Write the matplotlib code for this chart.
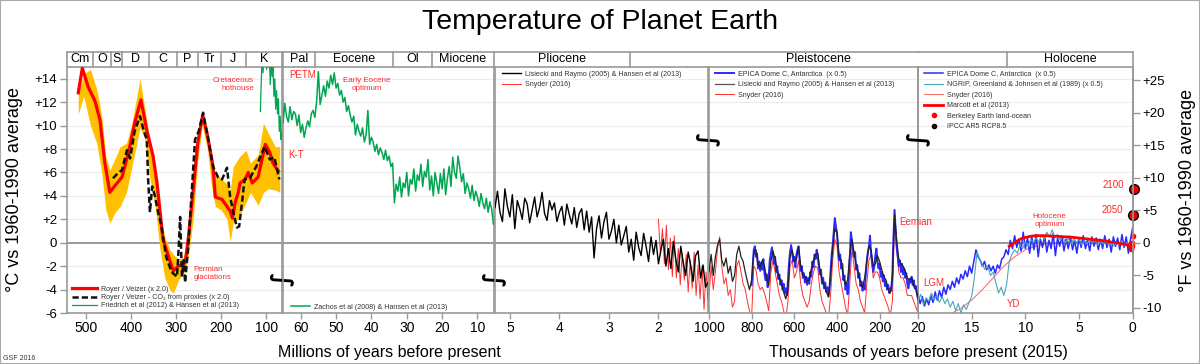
# Temperature of Planet Earth - five panels, each with its own time scale
import numpy as np
import matplotlib
matplotlib.use("Agg")
import matplotlib.pyplot as plt
from matplotlib.lines import Line2D
from matplotlib.patches import Rectangle
from matplotlib.transforms import blended_transform_factory as blend

plt.rcParams['font.family'] = ['Liberation Sans', 'DejaVu Sans']

# ---------------- data ----------------
# panel 1 : Phanerozoic, Ma, deg C vs 1960-1990
royer_ma = [517, 508, 495, 480, 469, 458, 447, 435, 420, 405, 392, 378, 365, 351,
            342, 329, 315, 306, 295, 280, 273, 262, 252, 241, 230, 218, 213, 198,
            180, 175, 169, 162, 158, 147, 140, 131, 118, 102, 92, 85, 73]
royer_t = [12.8, 14.9, 13.3, 12.1, 10.5, 6.8, 4.3, 4.9, 5.6, 7.8, 10.2, 12.2, 9.6, 7.4,
           5.0, 0.3, -1.4, -2.4, -2.0, -1.7, 0.3, 4.5, 8.5, 10.9, 9.1, 6.5, 3.9, 3.7,
           2.7, 2.1, 3.4, 4.3, 5.1, 5.4, 6.0, 5.1, 5.6, 8.4, 7.7, 6.8, 6.1]

band_ma = [517, 505, 490, 476, 465, 456, 447, 435, 424, 410, 398, 380, 370, 358, 346,
           336, 325, 314, 306, 295, 280, 273, 262, 252, 242, 230, 222, 213, 200, 187,
           180, 173, 160, 145, 135, 118, 106, 96, 80, 70]
band_hi = [12.8, 14.4, 14.8, 13.1, 10.8, 7.4, 6.2, 7.2, 8.2, 8.5, 10.2, 14.0, 11.6, 8.8, 5.4,
           2.6, 0.5, -0.6, -1.0, -1.4, -1.2, 1.0, 4.8, 9.2, 11.2, 9.6, 7.7, 6.0, 5.5, 5.0,
           4.5, 6.5, 7.3, 7.9, 6.8, 7.5, 10.2, 9.4, 8.2, 8.2]
band_lo = [11.0, 12.5, 10.0, 8.5, 6.0, 2.8, 1.7, 2.6, 3.1, 4.3, 6.5, 9.8, 9.0, 5.5, 3.0,
           -0.5, -3.0, -4.0, -4.3, -3.2, -2.4, -1.2, 2.0, 7.0, 10.0, 7.9, 5.0, 3.1, 2.8, 2.0,
           0.1, 1.7, 2.2, 3.4, 4.3, 3.2, 4.3, 4.6, 4.5, 4.3]

co2_ma = [440, 430, 420, 409, 402, 392, 380, 372, 365, 362, 358, 353, 347, 340, 333,
          322, 310, 298, 295, 291, 287, 283, 280, 273, 265, 258, 250, 240, 230, 218,
          207, 198, 187, 180, 173, 165, 160, 153, 148, 135, 122, 104, 92, 82, 71]
co2_t = [5.5, 5.9, 6.2, 7.9, 7.2, 9.5, 10.8, 9.6, 8.8, 5.4, 2.6, 4.8, 4.0, 2.6, 1.5,
         -1.2, -2.5, -2.9, -1.0, 2.2, -2.9, -1.5, -3.4, -0.3, 4.5, 8.8, 9.5, 11.1, 9.1, 6.5,
         5.6, 5.4, 6.4, 3.9, 2.6, 1.3, 1.4, 3.7, 5.4, 5.6, 6.5, 8.2, 7.1, 7.3, 5.4]

friedrich_ma = [113, 111, 109, 107, 105, 103, 101, 99, 97, 95, 93, 91, 89, 87, 85,
                83, 81, 79, 77, 75, 73, 71, 69, 67, 66]
friedrich_t = [11.2, 13.8, 16.0, 14.5, 16.5, 15.2, 16.0, 14.8, 16.2, 15.0, 15.8, 13.5, 16.0,
               14.2, 15.0, 12.5, 14.0, 11.4, 13.0, 11.0, 12.3, 9.5, 10.8, 8.8, 9.5]

# panel 2 : Cenozoic, one value every 0.5 Myr from 65.5 Ma to 5.5 Ma
zachos_t = [15.5, 10.2, 11.9, 10.8, 10.3, 11.6, 10.5, 11.2, 11.0, 10.0,
            10.9, 9.4, 10.1, 9.0, 9.8, 10.4, 9.9, 11.0, 11.3, 10.7,
            12.0, 14.6, 11.8, 12.6, 13.4, 12.5, 13.8, 13.2, 14.3, 13.5,
            14.5, 13.2, 13.6, 12.6, 13.0, 12.0, 12.4, 11.2, 11.7, 10.9,
            10.3, 10.8, 9.2, 10.1, 9.5, 9.1, 9.8, 8.6, 9.2, 11.3,
            8.4, 9.0, 8.6, 7.8, 8.4, 7.5, 8.1, 7.7, 7.1, 7.9,
            7.0, 7.4, 6.5, 6.8, 3.4, 5.0, 4.4, 5.6, 3.9, 5.1,
            4.7, 6.0, 4.0, 5.4, 5.0, 6.3, 4.4, 5.8, 5.3, 6.7,
            4.8, 6.1, 5.6, 7.1, 4.5, 5.7, 4.0, 6.0, 5.1, 4.2,
            5.9, 4.6, 6.3, 4.1, 5.5, 6.5, 4.8, 7.3, 6.0, 5.5,
            7.4, 6.4, 5.2, 5.9, 4.2, 5.1, 4.6, 3.8, 4.9, 3.6,
            4.4, 3.9, 3.1, 4.2, 3.4, 2.9, 3.8, 2.6, 3.5, 2.9, 1.6]

# panel 3 : Lisiecki & Raymo every 0.05 Myr from 5.3 to 1.0 Ma
lr_plio_t = [3.0, 4.4, 2.6, 1.8, 4.6, 3.1, 2.2, 4.1, 1.2, 3.6,
             2.9, 2.0, 3.8, 3.3, 1.7, 2.8, 3.9, 2.2, 3.0, 4.3,
             2.5, 1.9, 3.6, 2.8, 3.4, 1.8, 2.6, 3.1, 1.5, 3.3,
             2.4, 1.6, 3.0, 1.3, 2.5, 2.9, 1.1, 2.7, 0.9, 2.2,
             -1.3, 1.2, 2.3, 0.4, 1.8, 2.6, 0.3, 1.0, 2.0, 0.0,
             1.5, -0.2, 0.6, 1.4, -0.8, 0.3, -1.5, 0.9, -0.4, -1.1,
             0.8, -0.3, -1.6, 0.5, -1.0, 0.2, -1.8, -0.6, 0.3, -2.0,
             -0.5, -2.2, 0.1, -1.4, -2.5, -0.3, -1.7, -2.8, -0.8, -1.9,
             -3.3, -1.1, -0.7, -3.0, -1.9, -3.8, -3.4]
# Snyder every 0.04 Myr from 2.0 to 1.0 Ma
snyder_plio_t = [2.0, -1.0, 1.2, -1.8, 1.5, -2.3, 0.4, -2.9, 0.6, -3.0,
                 -0.5, -3.6, -0.9, -3.2, -1.0, -4.2, -1.5, -3.9, -0.8, -4.5,
                 -1.9, -4.8, -2.0, -5.7, -2.5, -4.9]

# panel 4 : kyr, Lisiecki & Raymo and Snyder every 10 kyr from 1000 to 20
lr_pleist_t = [-2.5, -1.0, -2.8, -1.2, -0.2, 0.3, -1.5, -2.0, -1.3, -2.6,
               -2.0, -3.3, -2.8, -1.0, -0.3, -1.2, -1.6, -2.5, -3.3, -4.0,
               -3.2, -0.8, -0.6, -1.8, -2.1, -1.5, -2.0, -3.0, -3.6, -1.6,
               -0.7, -1.4, -2.4, -3.0, -3.5, -4.2, -4.8, -4.0, -1.2, -0.6,
               -1.6, -1.4, -0.4, -2.0, -2.8, -2.9, -3.3, -3.2, -2.2, -1.5,
               -1.0, -0.9, -2.3, -3.2, -3.6, -4.2, -4.6, -3.0, -0.5, 1.2,
               0.8, -1.2, -1.5, -2.8, -3.6, -3.2, -1.0, 0.3, -0.8, -1.9,
               -2.5, -3.4, -3.8, -3.0, -1.5, -0.3, -0.6, -2.0, -1.8, -1.1,
               -1.6, -2.3, -2.9, -3.2, -4.0, -4.3, -3.0, 2.4, 0.2, -1.4,
               -1.8, -2.0, -2.4, -3.0, -3.2, -3.0, -3.7, -4.0, -4.6]
snyder_pleist_t = [-4.5, -2.0, -4.0, -2.5, -0.5, 0.5, -2.0, -3.5, -3.0, -4.5,
                   -4.0, -5.5, -5.0, -2.0, -1.5, -2.5, -3.5, -4.0, -5.0, -5.8,
                   -6.3, -2.0, -2.3, -3.5, -4.0, -3.8, -4.3, -5.0, -5.8, -2.5,
                   -1.5, -2.5, -3.5, -4.5, -5.0, -5.8, -6.5, -5.0, -2.0, -1.5,
                   -3.0, -2.5, -1.5, -3.5, -4.5, -5.0, -5.5, -5.0, -3.5, -2.5,
                   -2.0, -2.2, -4.0, -5.0, -5.5, -6.0, -6.5, -4.5, -1.5, 0.3,
                   -0.2, -2.5, -3.5, -4.5, -5.5, -6.2, -3.5, -0.5, -2.0, -3.5,
                   -4.0, -5.0, -5.5, -6.0, -3.5, -1.5, -1.0, -3.0, -2.5, -2.5,
                   -3.0, -4.0, -4.5, -5.0, -5.5, -6.2, -5.0, 1.8, -0.5, -2.5,
                   -3.0, -3.0, -3.5, -4.5, -4.5, -4.5, -5.0, -5.5, -6.0]
# EPICA (x 0.5) every 5 kyr from 800 to 20
epica_t = [-3.6, -2.0, -0.6, -0.3, -1.2, -0.9, -2.2, -1.6, -2.4, -1.7,
           -2.3, -1.4, -2.6, -3.2, -2.7, -3.8, -2.9, -1.5, -0.9, -0.4,
           -1.1, -1.8, -1.2, -2.5, -2.0, -3.1, -2.7, -3.6, -3.2, -4.0,
           -3.5, -4.3, -3.9, -4.5, -3.3, -1.8, -0.8, -0.2, -0.9, -1.6,
           -1.2, -2.1, -1.0, -0.6, -0.3, -1.5, -2.4, -2.0, -3.0, -2.6,
           -3.4, -2.9, -3.6, -3.0, -3.5, -2.5, -2.9, -1.6, -2.1, -1.0,
           -1.4, -0.6, -1.2, -2.0, -2.7, -2.3, -3.5, -3.0, -3.9, -3.4,
           -4.2, -3.8, -4.6, -3.9, -2.5, -1.0, -0.2, 1.0, 2.1, 1.4,
           0.9, -0.4, -1.5, -1.0, -2.2, -1.8, -3.2, -2.8, -4.0, -3.5,
           -4.4, -3.0, -1.4, 0.9, 0.2, -0.6, -1.2, -0.8, -2.3, -1.9,
           -3.0, -2.6, -3.7, -3.3, -4.1, -3.6, -4.0, -2.8, -1.6, -0.8,
           -0.3, 0.6, -0.9, -1.8, -2.5, -2.0, -1.1, -0.5, -1.6, -2.2,
           -1.8, -2.9, -2.5, -3.3, -2.8, -3.7, -3.3, -4.0, -3.6, -4.3,
           -3.9, -4.1, -2.6, 0.5, 2.8, 1.2, -0.4, -1.2, -2.0, -1.5,
           -2.5, -1.8, -2.7, -2.2, -3.0, -2.6, -3.5, -3.9, -3.1, -3.4,
           -2.9, -3.6, -3.2, -3.9, -3.7, -4.4, -4.8]

# panel 5 : last 20 kyr
# EPICA every 0.2 kyr from 20 to 0
epica_holo_t = [-4.4, -5.2, -4.6, -5.4, -4.8, -5.3, -4.5, -5.1, -4.2, -4.9,
                -4.1, -4.7, -3.8, -4.4, -3.6, -4.0, -3.3, -3.8, -3.0, -3.5,
                -2.7, -3.1, -2.4, -2.9, -2.0, -2.6, -1.6, -0.6, -1.2, -1.5,
                -2.0, -1.6, -2.3, -1.9, -2.4, -2.0, -2.6, -1.9, -2.2, -1.4,
                -1.2, -0.6, -1.0, 0.2, -0.5, 0.6, -0.4, 0.3, -0.7, 0.9,
                -0.5, 0.4, -0.9, 0.5, -0.6, 0.7, -1.2, 0.3, -0.4, 0.6,
                -0.8, 0.2, -0.5, 0.8, -1.1, 0.4, -0.3, 0.6, -0.7, 0.3,
                -0.5, 0.5, -0.6, 0.2, -0.9, 0.4, -0.4, 0.6, -0.5, 0.2,
                -0.7, 0.5, -0.3, 0.4, -0.6, 0.3, -0.5, 0.6, -0.4, 0.3,
                -0.8, 0.5, -0.3, 0.4, -0.6, 0.7, -0.4, 0.5, -0.9, 0.3, 1.3]
# NGRIP (x 0.5) every 0.25 kyr from 20 to 0
ngrip_t = [-5.0, -4.4, -5.3, -4.7, -5.0, -4.3, -4.9, -4.5, -5.1, -4.6,
           -5.2, -4.8, -5.5, -5.0, -5.8, -5.2, -6.0, -5.3, -5.7, -5.1,
           -4.6, -3.0, -0.8, -1.4, -1.9, -2.3, -2.0, -2.8, -2.5, -3.4,
           -4.3, -3.8, -4.5, -3.6, -1.6, -1.0, -0.6, -0.9, -0.2, -0.5,
           0.1, -0.3, 0.3, 0.0, 0.4, 0.1, 0.6, 0.3, 0.9, 0.5,
           1.1, 0.4, 0.7, 0.2, 0.5, 0.0, 0.4, -0.1, 0.3, 0.0,
           0.3, -0.2, 0.2, -0.1, 0.3, 0.0, 0.2, -0.2, 0.1, -0.1,
           0.2, -0.2, 0.1, -0.3, 0.0, -0.2, 0.1, -0.3, 0.0, -0.2, 0.0]
# Snyder every 1 kyr from 20 to 0
snyder_holo_t = [-6.0, -6.3, -6.3, -6.1, -5.6, -4.9, -4.0, -3.0, -2.0, -1.2,
                 -0.6, -0.3, -0.1, 0.0, 0.1, 0.1, 0.1, 0.1, 0.0, 0.0, 0.0]
# Marcott every 0.5 kyr from 11.5 to 0
marcott_t = [-0.3, 0.0, 0.3, 0.45, 0.55, 0.6, 0.6, 0.6, 0.55, 0.55, 0.5, 0.5,
             0.45, 0.4, 0.35, 0.3, 0.25, 0.2, 0.15, 0.05, 0.0, -0.1, -0.2, -0.35]
berkeley_kyr = [0.165, 0.14, 0.115, 0.09, 0.065, 0.04, 0.015]
berkeley_t = [-0.4, -0.4, -0.5, -0.3, -0.05, 0.0, 0.6]
ipcc_year = [2050, 2100]
ipcc_t = [2.4, 4.6]

# geological periods / epochs
pz_names = ["Cm", "O", "S", "D", "C", "P", "Tr", "J", "K"]
pz_edges = [542, 485, 444, 419, 359, 299, 252, 201, 145, 65]
cz_names = ["Pal", "Eocene", "Ol", "Miocene"]
cz_edges = [65, 56, 33.9, 23.0, 5.33]
plio_start, pleist_start, holo_start = 5.33, 2.58, 11.7   # Ma, Ma, kyr

# ---------------- figure ----------------
W, H = 1200, 364
fig = plt.figure(figsize=(W / 100, H / 100), dpi=100)

def px_axes(x0, x1, y0=67, y1=313):
    return fig.add_axes([x0 / W, 1 - y1 / H, (x1 - x0) / W, (y1 - y0) / H])

ax1 = px_axes(67, 282)
ax2 = px_axes(283, 494)
ax3 = px_axes(495, 708)
ax4 = px_axes(709, 918)
ax5 = px_axes(918, 1133)
axes = [ax1, ax2, ax3, ax4, ax5]
ax4.set_zorder(1)   # "Eemian" runs over the next panel

ax1.set_xlim(542, 65)
ax2.set_xlim(65, 5.33)
ax3.set_xlim(5.3, 1.0)
ax4.set_xlim(1000, 20)
ax5.set_xlim(20, -0.03)

gray = '#999999'
red = '#ff2a2a'
for ax in axes:
    ax.patch.set_visible(False)   # so notes / marks can cross into the next panel
    ax.set_ylim(-6, 15)
    ax.set_yticks(range(-6, 15, 2))
    ax.grid(axis='y', color='#ececec', lw=0.8)
    ax.set_axisbelow(True)
    ax.axhline(0, color=gray, lw=1.4, zorder=1.1)
    for sp in ax.spines.values():
        sp.set_color(gray)
        sp.set_linewidth(1.2)
    ax.tick_params(axis='x', direction='out', length=4, width=1, color=gray,
                   labelsize=10, pad=2)
    ax.tick_params(axis='y', length=0, labelleft=False)

ax1.tick_params(axis='y', direction='out', length=5, width=1, color=gray,
                labelleft=True, labelsize=9.5, pad=2)
ax1.set_yticklabels(['-6', '-4', '-2', '0', '+2', '+4', '+6', '+8', '+10', '+12', '+14'])

ax1.set_xticks([500, 400, 300, 200, 100])
ax2.set_xticks([60, 50, 40, 30, 20, 10])
ax3.set_xticks([5, 4, 3, 2])
ax4.set_xticks([1000, 800, 600, 400, 200])
ax5.set_xticks([20, 15, 10, 5, 0])

# panel 1
ax1.fill_between(band_ma, band_lo, band_hi, color='#ffc000', lw=0, zorder=2)
l_roy, = ax1.plot(royer_ma, royer_t, color='#ff0000', lw=2.3, zorder=3,
                  label='Royer / Veizer (x 2.0)')
l_co2, = ax1.plot(co2_ma, co2_t, color='#111111', lw=1.8, dashes=(2.5, 1.2), zorder=4,
                  label='Royer / Veizer - CO\u2082 from proxies (x 2.0)')
l_fr, = ax1.plot(friedrich_ma, friedrich_t, color='#00a651', lw=0.9, zorder=3,
                 label='Friedrich et al (2012) & Hansen et al (2013)')

# panel 2
zachos_ma = 65.5 - 0.5 * np.arange(len(zachos_t))
l_za, = ax2.plot(zachos_ma, zachos_t, color='#00a651', lw=1.1, zorder=3,
                 label='Zachos et al (2008) & Hansen et al (2013)')

# panel 3
lr_plio_ma = 5.3 - 0.05 * np.arange(len(lr_plio_t))
snyder_plio_ma = 2.0 - 0.04 * np.arange(len(snyder_plio_t))
l_sn3, = ax3.plot(snyder_plio_ma, snyder_plio_t, color='#ff3030', lw=0.7, zorder=3,
                  label='Snyder (2016)')
l_lr3, = ax3.plot(lr_plio_ma, lr_plio_t, color='#000000', lw=1.0, zorder=4,
                  label='Lisiecki and Raymo (2005) & Hansen et al (2013)')

# panel 4
lr_kyr = 1000 - 10 * np.arange(len(lr_pleist_t))
snyder_kyr = 1000 - 10 * np.arange(len(snyder_pleist_t))
epica_kyr = 800 - 5 * np.arange(len(epica_t))
l_sn4, = ax4.plot(snyder_kyr, snyder_pleist_t, color='#ff3030', lw=0.7, zorder=2,
                  label='Snyder (2016)')
l_ep4, = ax4.plot(epica_kyr, epica_t, color='#2a2aff', lw=1.4, zorder=3,
                  label='EPICA Dome C, Antarctica  (x 0.5)')
l_lr4, = ax4.plot(lr_kyr, lr_pleist_t, color='#222222', lw=0.9, zorder=4,
                  label='Lisiecki and Raymo (2005) & Hansen et al (2013)')

# panel 5
epica_holo_kyr = 20 - 0.2 * np.arange(len(epica_holo_t))
ngrip_kyr = 20 - 0.25 * np.arange(len(ngrip_t))
snyder_holo_kyr = 20 - 1.0 * np.arange(len(snyder_holo_t))
marcott_kyr = 11.5 - 0.5 * np.arange(len(marcott_t))
ipcc_kyr = [(2015 - y) / 1000 for y in ipcc_year]
l_sn5, = ax5.plot(snyder_holo_kyr, snyder_holo_t, color='#ff7070', lw=0.8, zorder=2,
                  label='Snyder (2016)')
l_ep5, = ax5.plot(epica_holo_kyr, epica_holo_t, color='#2a2aff', lw=1.1, zorder=3,
                  label='EPICA Dome C, Antarctica  (x 0.5)')
l_ng, = ax5.plot(ngrip_kyr, ngrip_t, color='#4aa8b8', lw=0.8, zorder=4,
                 label='NGRIP, Greenland & Johnsen et al (1989) (x 0.5)')
l_ma, = ax5.plot(marcott_kyr, marcott_t, color='#ff0000', lw=2.0, zorder=5,
                 label='Marcott et al (2013)')
l_be, = ax5.plot(berkeley_kyr, berkeley_t, 'o', color='#ff0000', ms=3, zorder=6,
                 clip_on=False, label='Berkeley Earth land-ocean')
l_ip, = ax5.plot(ipcc_kyr, ipcc_t, 'o', mfc='#ee0000', mec='black', mew=1, ms=7,
                 zorder=7, clip_on=False, label='IPCC AR5 RCP8.5')
for yr, k, t in zip(ipcc_year, ipcc_kyr, ipcc_t):
    ax5.annotate(str(yr), xy=(k, t), xytext=(-7, 3), textcoords='offset points',
                 ha='right', va='center', color=red, fontsize=7, annotation_clip=False)

# right axis in deg F
axf = ax5.twinx()
axf.set_ylim(-6 * 1.8, 15 * 1.8)
axf.set_yticks([-10, -5, 0, 5, 10, 15, 20, 25])
axf.set_yticklabels(['-10', '-5', '0', '+5', '+10', '+15', '+20', '+25'])
axf.tick_params(axis='y', direction='out', length=5, width=1, color=gray,
                labelsize=9.5, pad=2)
for name, sp in axf.spines.items():
    sp.set_visible(name == 'right')
    sp.set_color(gray)
    sp.set_linewidth(1.2)

# legends
leg_kw = dict(loc='upper left', fontsize=5.1, frameon=False, borderpad=0,
              borderaxespad=0, handletextpad=0.6, labelcolor='#333333')
ax1.legend(handles=[l_roy, l_co2, l_fr], bbox_to_anchor=(0.025, 0.11),
           handlelength=3.5, labelspacing=0.15, **leg_kw)
ax2.legend(handles=[l_za], bbox_to_anchor=(0.04, 0.037), handlelength=2.6, **leg_kw)
ax3.legend(handles=[l_lr3, l_sn3], bbox_to_anchor=(0.035, 0.985), handlelength=2.6,
           labelspacing=0.5, **leg_kw)
ax4.legend(handles=[l_ep4, Line2D([], [], color='#555555', lw=0.9), l_sn4],
           labels=[l_ep4.get_label(), l_lr4.get_label(), l_sn4.get_label()],
           bbox_to_anchor=(0.03, 0.985), handlelength=2.6, labelspacing=0.5, **leg_kw)
ax5.legend(handles=[l_ep5, l_ng, l_sn5, l_ma, l_be,
                    Line2D([], [], ls='', marker='o', mfc='#550000', mec='black', ms=3)],
           labels=[l_ep5.get_label(), l_ng.get_label(), l_sn5.get_label(),
                   l_ma.get_label(), l_be.get_label(), l_ip.get_label()],
           bbox_to_anchor=(0.03, 0.985), handlelength=2.6, labelspacing=0.5,
           numpoints=1, **leg_kw)

# red notes
ax1.text(127, 13.5, 'Cretaceous\nhothouse', color=red, fontsize=5.8, ha='right',
         va='center', multialignment='right')
ax1.text(262, -2.65, 'Permian\nglaciations', color=red, fontsize=5.8, ha='left',
         va='center')
ax2.text(63.1, 14.3, 'PETM', color=red, fontsize=7, ha='left', va='center')
ax2.text(41.4, 13.5, 'Early Eocene\noptimum', color=red, fontsize=5.8, ha='center',
         va='center', multialignment='center')
ax2.text(63.4, 7.5, 'K-T', color=red, fontsize=7, ha='left', va='center')
ax4.text(110, 1.8, 'Eemian', color=red, fontsize=7, ha='left', va='center', zorder=8)
ax5.text(19.5, -3.4, 'LGM', color=red, fontsize=7, ha='left', va='center')
ax5.text(11.7, -5.2, 'YD', color=red, fontsize=7, ha='left', va='center')
ax5.text(7.75, 1.9, 'Holocene\noptimum', color=red, fontsize=5.8, ha='center',
         va='center', multialignment='center')

# break marks between panels
for ax, yb in [(ax1, -3.1), (ax2, -3.1), (ax3, 8.9), (ax4, 8.9)]:
    ax.text(1.0, yb, '\u222b', transform=blend(ax.transAxes, ax.transData), rotation=90,
            ha='center', va='center', fontsize=17, family='DejaVu Sans',
            fontweight='bold', zorder=10, clip_on=False)

# header with periods / epochs
hh = 15.5 / 246
yh = 1 - 59.5 / H

def xfig(ax, v):
    return ax.transData.transform((v, 0))[0] / fig.bbox.width

def header_lines(ax, edges):
    tr = blend(ax.transData, ax.transAxes)
    ax.plot([0, 1], [1 + hh, 1 + hh], transform=ax.transAxes, color=gray, lw=1.2,
            clip_on=False)
    for e in edges:
        ax.plot([e, e], [1, 1 + hh], transform=tr, color=gray, lw=1.2, clip_on=False)

header_lines(ax1, pz_edges)
header_lines(ax2, cz_edges)
header_lines(ax3, [pleist_start])
header_lines(ax4, [])
header_lines(ax5, [holo_start, -0.03])

for i, name in enumerate(pz_names):
    fig.text((xfig(ax1, pz_edges[i]) + xfig(ax1, pz_edges[i + 1])) / 2, yh, name,
             ha='center', va='center', fontsize=9)
for i, name in enumerate(cz_names):
    fig.text((xfig(ax2, cz_edges[i]) + xfig(ax2, cz_edges[i + 1])) / 2, yh, name,
             ha='center', va='center', fontsize=9)
fig.text((xfig(ax3, plio_start) + xfig(ax3, pleist_start)) / 2, yh, 'Pliocene',
         ha='center', va='center', fontsize=9)
fig.text((xfig(ax3, pleist_start) + xfig(ax5, holo_start)) / 2, yh, 'Pleistocene',
         ha='center', va='center', fontsize=9)
fig.text((xfig(ax5, holo_start) + xfig(ax5, -0.03)) / 2, yh, 'Holocene',
         ha='center', va='center', fontsize=9)

# titles and axis labels
fig.text(0.5, 1 - 22 / H, 'Temperature of Planet Earth', ha='center', va='center',
         fontsize=20.5)
fig.text(15 / W, 1 - 190 / H, '\u00b0C vs 1960-1990 average', rotation=90,
         ha='center', va='center', fontsize=13)
fig.text(1187 / W, 1 - 190 / H, '\u00b0F vs 1960-1990 average', rotation=90,
         ha='center', va='center', fontsize=13)
fig.text(389 / W, 1 - 353 / H, 'Millions of years before present', ha='center',
         va='center', fontsize=11.5)
fig.text(918 / W, 1 - 353 / H, 'Thousands of years before present (2015)',
         ha='center', va='center', fontsize=11.5)
fig.text(3 / W, 1 - 358 / H, 'GSF 2016', ha='left', va='center', fontsize=5,
         color='#333333')

# thin frame round the whole picture
fig.patches.append(Rectangle((0, 0), 1, 1, transform=fig.transFigure, fill=False,
                             edgecolor='#aaaaaa', lw=1.5))

fig.savefig('out.png', dpi=100)
